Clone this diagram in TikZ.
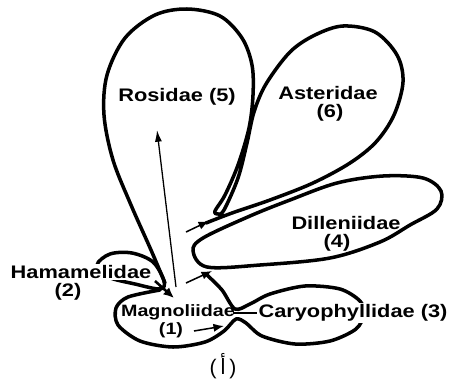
\documentclass[tikz,border=0pt]{standalone}
\usepackage{fontspec}
\setmainfont{Liberation Sans}
\newfontfamily\labfont{Liberation Sans}[FakeStretch=1.2]
\newfontfamily\arabicfont[Script=Arabic]{DejaVu Sans}
\TeXXeTstate=1
\usetikzlibrary{arrows.meta}
\begin{document}
\begin{tikzpicture}[x=0.03cm,y=-0.03cm,
  outline/.style={line width=3pt, line join=round, line cap=round},
  lab/.style={font=\labfont\bfseries\fontsize{15.5}{17}\selectfont, inner sep=1pt},
  labw/.style={lab, fill=white},
  smallarrow/.style={line width=1.3pt, -{Latex[length=9pt,width=7pt]}},
  thinarrow/.style={line width=1.1pt, -{Latex[length=10pt,width=6pt]}}]
\useasboundingbox (0,0) rectangle (451,383);

% Rosidae and Asteridae outline (one line with a narrow tip)
\draw[outline] plot[smooth,tension=0.55] coordinates {(165,283) (151,250) (131,205) (113,160) (104,115) (107,75) (125,38) (155,15) (187,9) (220,16) (242,38) (252,65) (253,95) (249,128) (238,165) (225,195) (215,211) (218,214) (224,210) (238,178) (247,143) (254,112) (266,84) (290,52) (315,35) (343,26) (375,32) (397,55) (403,82) (394,115) (376,142) (350,163) (313,183) (270,200) (232,213) (206,223)};

% Dilleniidae
\draw[outline] plot[smooth cycle,tension=0.55] coordinates {(193,251) (203,238) (250,216) (290,200) (337,183) (383,176) (423,178) (441,191) (437,209) (410,225) (380,242) (330,258) (260,265) (207,267)};

% Hamamelidae
\draw[outline] plot[smooth cycle,tension=0.55] coordinates {(164,281) (153,262) (132,253) (110,254) (97,265) (108,277) (135,284) (160,289)};

% Magnoliidae + Caryophyllidae outline
\draw[outline] plot[smooth,tension=0.5] coordinates {(207,275) (222,290) (235,309) (250,304) (270,294) (305,286) (340,289) (360,301) (364,314) (356,329) (330,341) (295,344) (262,336) (246,323) (236,319) (224,331) (205,342) (173,347) (140,341) (118,325) (116,308) (128,297) (160,290)};
\coordinate (barL) at (233,313);
\coordinate (barR) at (257,313);
\draw[line width=1.5pt] (barL) -- (barR);

% arrows
\coordinate (r0) at (176,287); \coordinate (r1) at (157,130);
\draw[thinarrow] (r0) -- (r1);
\coordinate (d0) at (186,232); \coordinate (d1) at (209,221);
\draw[smallarrow] (d0) -- (d1);
\coordinate (c0) at (186,283); \coordinate (c1) at (212,271);
\draw[smallarrow] (c0) -- (c1);
\coordinate (m0) at (194,331); \coordinate (m1) at (224,326);
\draw[smallarrow] (m0) -- (m1);
\coordinate (h0) at (155,281); \coordinate (h1) at (174,298);
\draw[line width=2.2pt, -{Latex[length=9pt,width=8pt]}] (h0) -- (h1);

% labels
\node[lab] (ros) at (177,97) {Rosidae (5)};
\node[lab] (ast) at (328,93) {Asteridae};
\node[lab] (ast6) at (330,113) {(6)};
\node[lab] (dil) at (346,223) {Dilleniidae};
\node[lab] (dil4) at (337,243) {(4)};
\node[labw] (car) at (353,313) {Caryophyllidae (3)};
\node[lab, font=\labfont\bfseries\fontsize{14}{16}\selectfont] (mag) at (178,312) {Magnoliidae};
\node[lab, font=\labfont\bfseries\fontsize{14}{16}\selectfont] (mag1) at (171,330) {(1)};
\node[labw] (ham) at (81,272) {Hamamelidae};
\node[lab] (ham2) at (68,292) {(2)};
\node[font=\fontsize{18}{20}\selectfont, inner sep=0pt] (fig) at (223,366) {(\,{\arabicfont\beginR أ\endR}\,)};
\end{tikzpicture}
\end{document}
